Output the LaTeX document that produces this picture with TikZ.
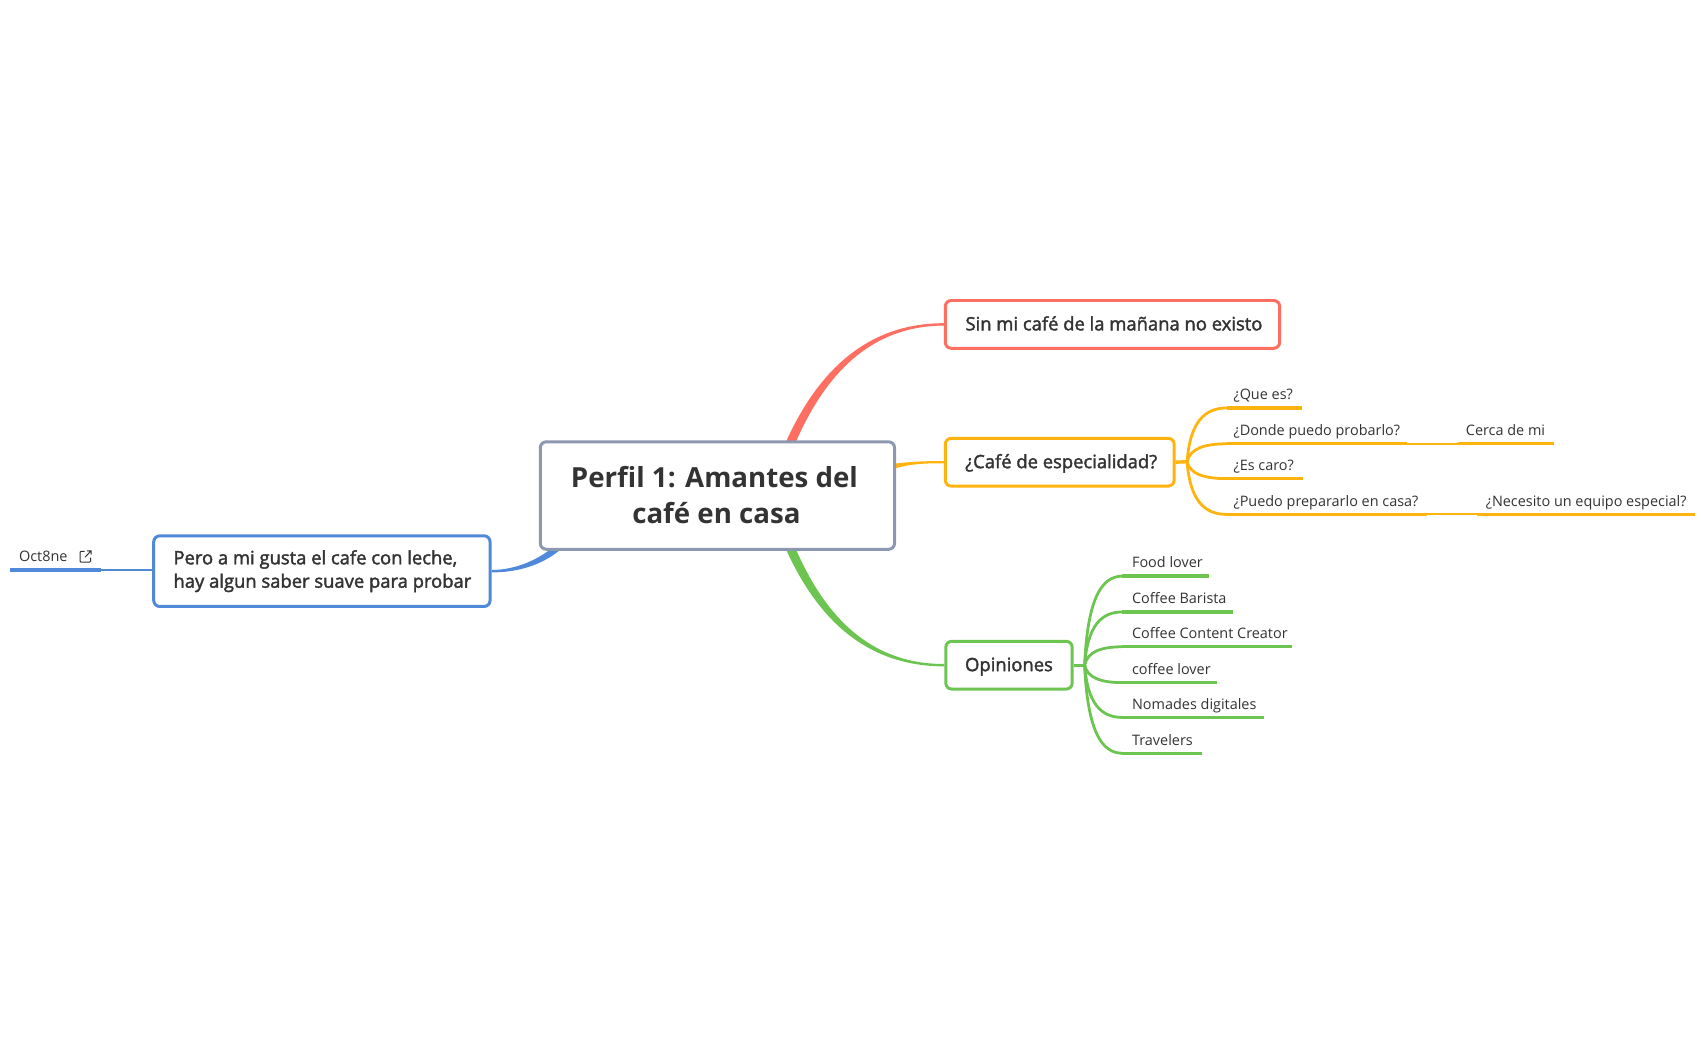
\documentclass[tikz,border=0pt]{standalone}
\usepackage{fontspec}
\setmainfont{Open Sans}
\newfontfamily\semifont[FakeBold=2]{Open Sans}
\usetikzlibrary{calc,backgrounds}
\definecolor{ink}{HTML}{333333}
\definecolor{redc}{HTML}{FF6F61}
\definecolor{yelc}{HTML}{FFB30F}
\definecolor{grnc}{HTML}{6CC551}
\definecolor{bluc}{HTML}{5089DA}
\definecolor{gryc}{HTML}{8C98B0}
\tikzset{
  x=1pt,y=-1pt,
  rootbox/.style={draw=gryc,line width=3pt,rounded corners=6pt,fill=white,text=ink,align=center,inner sep=0pt,font=\fontsize{27.8}{36}\selectfont\bfseries},
  midbox/.style={draw=#1,line width=3pt,rounded corners=6pt,fill=white,text=ink,align=left,inner sep=0pt,font=\fontsize{18.5}{23.5}\semifont},
  midsingle/.style={midbox=#1,minimum height=48pt,text height=15pt,text depth=3pt},
  leaftext/.style={anchor=base west,inner sep=0pt,text=ink,font=\fontsize{14.5}{17}\selectfont},
  thickline/.style={draw=#1,line width=3.4pt},
  thinline/.style={draw=#1,line width=2.8pt},
  linkline/.style={draw=#1,line width=2pt},
}
\newcommand{\hubcurve}[3]{% style colour, hub, leaf start
  \draw[thinline=#1] (#2) .. controls ($($(#2 |- #3)!0.25!(#2)$)+(3,0)$) and ($(#2 |- #3)!0.45!(#3)$) .. (#3);}
\begin{document}
\begin{tikzpicture}
\useasboundingbox (0,0) rectangle (1713.5,1060.3);

% main nodes
\node[rootbox,minimum width=356pt,minimum height=108pt] (root) at (721,498) {\raisebox{1.5pt}{Perfil 1: Amantes del\hspace*{6pt}}\\\raisebox{1pt}{café en casa\hspace*{2pt}}};
\node[midsingle=redc,minimum width=336pt] (red) at (1118,326) {\hspace*{3pt}Sin mi café de la mañana no existo};
\node[midsingle=yelc,minimum width=230pt] (yel) at (1065,464.5) {\hspace*{3pt}¿Café de especialidad?};
\node[midsingle=grnc,minimum width=127pt] (grn) at (1014,668.5) {Opiniones};
\node[midbox=bluc,minimum width=338pt,minimum height=71pt] (blu) at (323.5,574) {\hspace*{1pt}Pero a mi gusta el cafe con leche,\\\hspace*{1pt}hay algun saber suave para probar};

% tapered main branches, behind the boxes
\coordinate (ra) at (789,446); \coordinate (rb) at (799,446);
\coordinate (ya) at (899,466); \coordinate (yb) at (899,471);
\coordinate (ga) at (789,550); \coordinate (gb) at (799,550);
\coordinate (ba) at (556,550); \coordinate (bb) at (566,550);
\begin{scope}[on background layer]
  \fill[redc] (ra) .. controls (825,365) and (878,324.8) .. ($(red.west)+(0,-1.2)$) -- ($(red.west)+(0,1.2)$) .. controls (882,327.5) and (833,367) .. (rb) -- cycle;
  \fill[yelc] (ya) .. controls (915,464) and (930,463.3) .. ($(yel.west)+(0,-1.2)$) -- ($(yel.west)+(0,1.2)$) .. controls (930,465.5) and (915,466) .. (yb) -- cycle;
  \fill[grnc] (ga) .. controls (825,631) and (878,669.6) .. ($(grn.west)+(0,1.2)$) -- ($(grn.west)+(0,-1.2)$) .. controls (882,667.4) and (833,629) .. (gb) -- cycle;
  \fill[bluc] (ba) .. controls (537,565) and (515,572.8) .. ($(blu.east)+(0,-1.2)$) -- ($(blu.east)+(0,1.2)$) .. controls (518,575.4) and (545,569) .. (bb) -- cycle;
\end{scope}

% hubs
\coordinate (yh) at (1193,464);
\coordinate (gh) at (1090,668.5);
\draw[thickline=yelc] (yel.east) -- (yh);
\draw[thickline=grnc] (grn.east) -- (gh);

% yellow leaves
\foreach \n/\xa/\xb/\yy/\ty/\tx in {
  y1/1233/1308/410/401/{¿Que es?},
  y2/1233/1414/446/438/{¿Donde puedo probarlo?},
  y3/1233/1309/481/473/{¿Es caro?},
  y4/1233/1434/517/509/{¿Puedo prepararlo en casa?}}{
  \coordinate (\n a) at (\xa,\yy); \coordinate (\n b) at (\xb,\yy);
  \hubcurve{yelc}{yh}{\n a}
  \draw[thickline=yelc] (\n a) -- (\n b);
  \node[leaftext] (\n) at (1239.5,\ty) {\tx};
}
\coordinate (y5a) at (1465,446); \coordinate (y5b) at (1562,446);
\coordinate (y6a) at (1484,517); \coordinate (y6b) at (1703,517);
\draw[linkline=yelc] (y2b) -- (y5a);
\draw[linkline=yelc] (y4b) -- (y6a);
\draw[thickline=yelc] (y5a) -- (y5b);
\draw[thickline=yelc] (y6a) -- (y6b);
\node[leaftext] (y5) at (1473,438) {Cerca de mi};
\node[leaftext] (y6) at (1493,509) {¿Necesito un equipo especial?};

% green leaves
\foreach \n/\xb/\yy/\ty/\tx in {
  g1/1215/579/570/{Food lover},
  g2/1239/615/606/{Coffee Barista},
  g3/1298/650/642/{Coffee Content Creator},
  g4/1223/686/678/{coffee lover},
  g5/1270/721/713/{Nomades digitales},
  g6/1208/757/749/{Travelers}}{
  \coordinate (\n a) at (1128,\yy); \coordinate (\n b) at (\xb,\yy);
  \hubcurve{grnc}{gh}{\n a}
  \draw[thickline=grnc] (\n a) -- (\n b);
  \node[leaftext] (\n) at (1137.5,\ty) {\tx};
}

% blue leaf
\coordinate (b1a) at (10,573); \coordinate (b1b) at (102,573);
\draw[thickline=bluc] (b1a) -- (b1b);
\draw[linkline=bluc] (b1b) -- (b1b -| blu.west);
\node[leaftext] (b1) at (19,564) {Oct8ne};
% link icon
\draw[ink,line width=1pt,rounded corners=1pt] (85,554) -- (80.5,554) -- (80.5,565) -- (91,565) -- (91,560.5);
\draw[ink,line width=1pt] (85.5,560) -- (91.5,553.5) (87.5,553.5) -- (91.5,553.5) -- (91.5,557.5);
\end{tikzpicture}
\end{document}
